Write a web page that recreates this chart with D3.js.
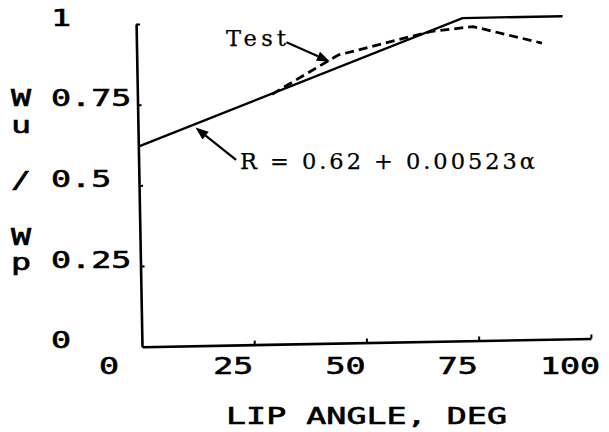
<!DOCTYPE html>
<html><head><meta charset="utf-8">
<script src="https://cdn.jsdelivr.net/npm/d3@7"></script>
<style>html,body{margin:0;padding:0;background:#fff;} svg{display:block}</style>
</head><body><svg id="c" width="609" height="432"></svg>
<script>
// ---- data ----
const xTicks = [0, 25, 50, 75, 100];
const xTickLabels = ["0", "25", "50", "75", "100"];
const yTicks = [0, 0.25, 0.5, 0.75, 1];
const yTickLabels = ["0", "0.25", "0.5", "0.75", "1"];
const formulaAlpha = [0, 72.7, 95];
const formulaR = [0.62, 1.0, 1.0];
const testAlpha = [30, 43, 45, 65.5, 75, 90.3];
const testR = [0.775, 0.878, 0.893, 0.960, 0.973, 0.918];
const xTitle = "LIP ANGLE, DEG";
const yTitleChars = ["W", "u", "/", "W", "p"];
const testLabel = "Test";
const formulaLabel = "R = 0.62 + 0.00523\u03b1";
const testArrowAt = [43, 0.873];
const formulaArrowAt = [12.8, 0.676];

// ---- layout ----
const svg = d3.select("#c");
const x = d3.scaleLinear().domain([0, 100]).range([142, 591]);
const y = d3.scaleLinear().domain([0, 1]).range([346.7, 24]);
const tilt = -1.05;
const plot = svg.append("g").attr("transform", `rotate(${tilt},${x(0)},${y(0)})`);

// axes
const xAxis = plot.append("g").attr("transform", `translate(0,${y(0)})`)
  .call(d3.axisBottom(x).tickValues(xTicks.filter(v => v > 0)).tickSizeInner(-4).tickSizeOuter(0).tickFormat(""));
const yAxis = plot.append("g").attr("transform", `translate(${x(0)},0)`)
  .call(d3.axisLeft(y).tickValues(yTicks.filter(v => v > 0)).tickSizeInner(-4).tickSizeOuter(0).tickFormat(""));
[xAxis, yAxis].forEach(g => {
  g.select(".domain").attr("stroke", "#000").attr("stroke-width", 2.6);
  g.selectAll(".tick line").attr("stroke", "#000").attr("stroke-width", 2);
  g.selectAll(".tick text").remove();
});

// lines
const line = d3.line().x(d => x(d[0])).y(d => y(d[1]));
plot.append("path")
  .datum(formulaAlpha.map((a, i) => [a, formulaR[i]]))
  .attr("d", line).attr("fill", "none").attr("stroke", "#000").attr("stroke-width", 2.3);
plot.append("path")
  .datum(testAlpha.map((a, i) => [a, testR[i]]))
  .attr("d", line).attr("fill", "none").attr("stroke", "#000").attr("stroke-width", 2.8)
  .attr("stroke-dasharray", "9,5");

// arrows
function arrow(tip, dx, dy) {
  const tx = x(tip[0]), ty = y(tip[1]);
  const sx = tx + dx, sy = ty + dy;
  const len = Math.hypot(dx, dy), ux = -dx / len, uy = -dy / len;
  const hl = 13, hw = 5;
  const bx = tx - ux * hl, by = ty - uy * hl;
  plot.append("line").attr("x1", sx).attr("y1", sy).attr("x2", bx).attr("y2", by)
    .attr("stroke", "#000").attr("stroke-width", 2.2);
  plot.append("path")
    .attr("d", `M${tx},${ty}L${bx - uy * hw},${by + ux * hw}L${bx + uy * hw},${by - ux * hw}Z`)
    .attr("fill", "#000");
}
arrow(testArrowAt, -43, -20);
arrow(formulaArrowAt, 40, 33);

// plotter-style text
function monoText(str, tx, ty, anchor) {
  svg.append("text")
    .attr("transform", `translate(${tx},${ty}) scale(1.45,1)`)
    .attr("text-anchor", anchor)
    .style("font-family", "'DejaVu Sans Mono', monospace")
    .style("font-size", "23px")
    .attr("fill", "#000").attr("stroke", "#000").attr("stroke-width", 0.6)
    .text(str);
}
yTicks.forEach((v, i) => monoText(yTickLabels[i], 51, y(v) + 1.5, "start"));
xTicks.forEach((v, i) => monoText(xTickLabels[i], x(v) - 21 - (v === 0 ? 12 : 0), 374, "middle"));
monoText(xTitle, x(50), 424, "middle");
const yTitleBaselines = [106, 133, 188, 245, 270];
yTitleChars.forEach((c, i) => monoText(c, 11, yTitleBaselines[i], "start"));

// annotation labels (typewriter style)
function serifText(str, tx, ty, len) {
  svg.append("text").attr("x", tx).attr("y", ty)
    .attr("textLength", len).attr("lengthAdjust", "spacing")
    .style("font-family", "'DejaVu Serif', serif")
    .style("font-size", "22.5px")
    .attr("fill", "#000").attr("stroke", "#000").attr("stroke-width", 0.25)
    .text(str);
}
serifText(testLabel, 226, 46, 60);
serifText(formulaLabel, 240, 169, 295);
</script></body></html>
